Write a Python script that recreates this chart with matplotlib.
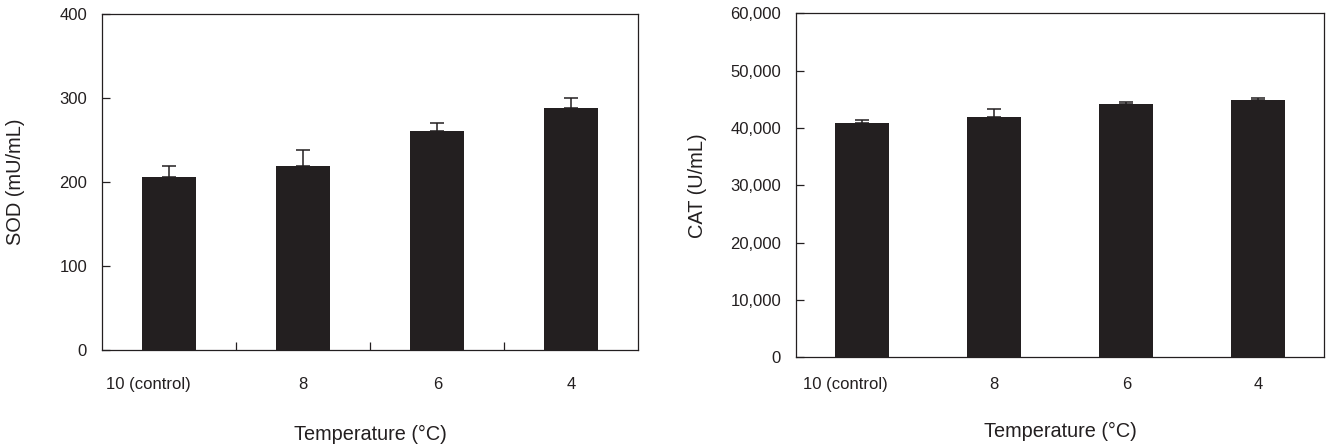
import matplotlib
matplotlib.use("Agg")
import matplotlib.pyplot as plt
import matplotlib.transforms as mtransforms
from matplotlib.ticker import FuncFormatter, MultipleLocator

# --- data ---
categories = ["10 (control)", "8", "6", "4"]
sod_mean = [206, 219, 261, 288]
sod_err = [13, 19, 10, 12]
cat_mean = [40850, 41900, 44180, 44880]
cat_err = [480, 1350, 300, 300]

bar_color = "#231f20"
plt.rcParams["font.family"] = ["Liberation Sans", "DejaVu Sans"]

fig = plt.figure(figsize=(13.37, 4.46), dpi=100)
ax1 = fig.add_axes([0.0765, 0.2152, 0.4009, 0.7527])
ax2 = fig.add_axes([0.5956, 0.1989, 0.3949, 0.7713])


def draw_panel(ax, means, errs, width, ylim, ystep, ylabel, ylab_x, xlab_y, cat_y, first_shift, minor):
    x = list(range(len(categories)))
    ax.bar(x, means, width=width, color=bar_color, zorder=2)
    ax.errorbar(x, means, yerr=[[0] * len(errs), errs], fmt="none",
                ecolor=bar_color, elinewidth=1.1, capsize=4.8, capthick=1.1, zorder=1)
    ax.set_xlim(-0.5, len(categories) - 0.5)
    ax.set_ylim(*ylim)
    ax.yaxis.set_major_locator(MultipleLocator(ystep))
    ax.tick_params(axis="y", direction="in", length=5.5, width=0.9, pad=11,
                   labelsize=12, colors=bar_color)
    ax.set_xticks([])
    if minor:
        ax.set_xticks([0.5, 1.5, 2.5], minor=True)
        ax.tick_params(axis="x", which="minor", direction="in", length=6, width=0.9,
                       color=bar_color)
    for s in ax.spines.values():
        s.set_linewidth(0.9)
        s.set_color(bar_color)

    # category labels under the bars (first one sits a bit to the left)
    trans = mtransforms.blended_transform_factory(ax.transData, ax.transAxes)
    for i, c in enumerate(categories):
        xx = i + (first_shift if i == 0 else 0)
        ax.text(xx, cat_y, c, transform=trans, ha="center", va="center",
                fontsize=12, color=bar_color)

    ax.set_ylabel(ylabel, fontsize=14.4, va="center", color=bar_color)
    ax.yaxis.set_label_coords(ylab_x, 0.5)
    ax.set_xlabel("Temperature (°C)", fontsize=14.3, va="center", color=bar_color)
    ax.xaxis.set_label_coords(0.5, xlab_y)


draw_panel(ax1, sod_mean, sod_err, 0.40, (0, 400), 100, "SOD (mU/mL)",
           -0.161, -0.253, -0.1013, -0.157, True)
draw_panel(ax2, cat_mean, cat_err, 0.41, (0, 60000), 10000, "CAT (U/mL)",
           -0.188, -0.216, -0.0805, -0.129, False)
ax2.yaxis.set_major_formatter(FuncFormatter(lambda v, p: f"{v:,.0f}"))

fig.savefig("out.png", dpi=100)
